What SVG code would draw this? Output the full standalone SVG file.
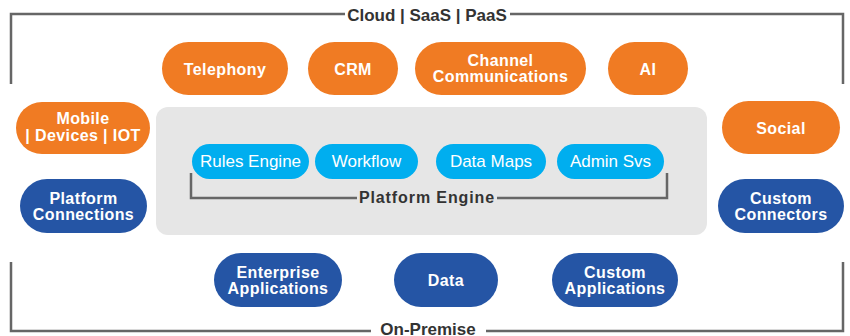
<svg xmlns="http://www.w3.org/2000/svg" width="850" height="336" viewBox="0 0 850 336">
<style>
.or{fill:#F07B23}
.db{fill:#2555A5}
.lb{fill:#00AEEF}
.t{font-family:"Liberation Sans",Arial,sans-serif;font-weight:bold;font-size:16px;fill:#fff;text-anchor:middle;letter-spacing:0.4px}
.r{font-family:"Liberation Sans",Arial,sans-serif;font-size:17px;fill:#fff;text-anchor:middle}
.h{font-family:"Liberation Sans",Arial,sans-serif;font-weight:bold;font-size:17px;fill:#333;text-anchor:middle}
.ln{fill:none;stroke:#666;stroke-width:2.5}
</style>
<rect width="850" height="336" fill="#fff"/>
<g id="platform">
<rect x="156" y="107" width="551" height="128" rx="12" fill="#E6E6E6"/>
<text class="h" x="427" y="203" style="font-size:16px;letter-spacing:0.9px">Platform Engine</text>
</g>
<g id="connectors">
<polyline class="ln" points="11,84 11,14 345,14"/>
<polyline class="ln" points="510,14 843,14 843,84"/>
<polyline class="ln" points="11,262 11,331 371,331"/>
<polyline class="ln" points="486,331 843,331 843,262"/>
<polyline class="ln" points="191,173 191,198 357,198"/>
<polyline class="ln" points="497,198 667,198 667,173"/>
</g>
<text class="h" x="427" y="21">Cloud | SaaS | PaaS</text>
<text class="h" x="428" y="335">On-Premise</text>
<g id="telephony"><rect class="or" x="162" y="42" width="126" height="53" rx="26.5"/><text class="t" x="225" y="75">Telephony</text></g>
<g id="crm"><rect class="or" x="308" y="42" width="90" height="53" rx="26.5"/><text class="t" x="353" y="75">CRM</text></g>
<g id="channel"><rect class="or" x="415" y="42" width="171" height="53" rx="26.5"/><text class="t" x="500.5" y="66">Channel<tspan x="500.5" y="82">Communications</tspan></text></g>
<g id="ai"><rect class="or" x="608" y="42" width="80" height="53" rx="26.5"/><text class="t" x="648" y="75">AI</text></g>
<g id="mobile"><rect class="or" x="16" y="102" width="134" height="52" rx="26"/><text class="t" x="83" y="124">Mobile<tspan x="83" y="140.5">| Devices | IOT</tspan></text></g>
<g id="platform-connections"><rect class="db" x="20" y="179" width="127" height="54" rx="27"/><text class="t" x="83.5" y="204">Platform<tspan x="83.5" y="220">Connections</tspan></text></g>
<g id="social"><rect class="or" x="722" y="101" width="118" height="53" rx="26.5"/><text class="t" x="781" y="134">Social</text></g>
<g id="custom-connectors"><rect class="db" x="718" y="179" width="126" height="54" rx="27"/><text class="t" x="781" y="204">Custom<tspan x="781" y="220">Connectors</tspan></text></g>
<g id="rules"><rect class="lb" x="192" y="144" width="117" height="35" rx="17.5"/><text class="r" x="250.5" y="167">Rules Engine</text></g>
<g id="workflow"><rect class="lb" x="315" y="144" width="103" height="35" rx="17.5"/><text class="r" x="366.5" y="167">Workflow</text></g>
<g id="datamaps"><rect class="lb" x="436" y="144" width="110" height="35" rx="17.5"/><text class="r" x="491" y="167">Data Maps</text></g>
<g id="admin"><rect class="lb" x="557" y="144" width="107" height="35" rx="17.5"/><text class="r" x="610.5" y="167">Admin Svs</text></g>
<g id="enterprise"><rect class="db" x="214" y="253" width="128" height="54" rx="27"/><text class="t" x="278" y="278">Enterprise<tspan x="278" y="294">Applications</tspan></text></g>
<g id="data"><rect class="db" x="394" y="253" width="104" height="54" rx="27"/><text class="t" x="446" y="286">Data</text></g>
<g id="custom-apps"><rect class="db" x="552" y="253" width="126" height="54" rx="27"/><text class="t" x="615" y="278">Custom<tspan x="615" y="294">Applications</tspan></text></g>
</svg>
